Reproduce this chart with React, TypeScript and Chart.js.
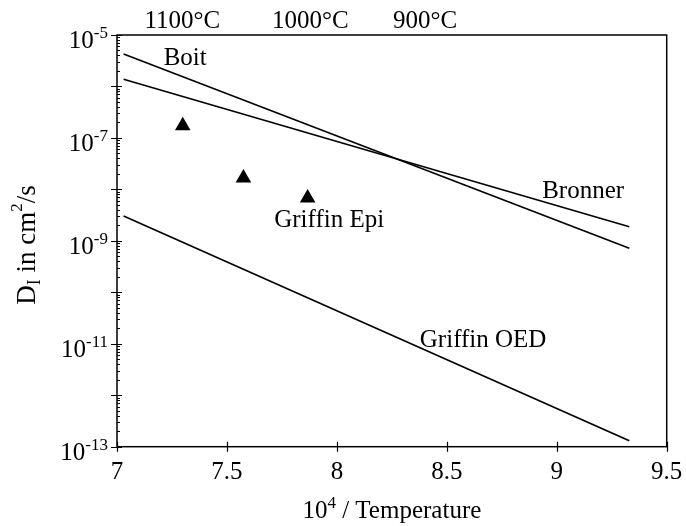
import { useEffect, useRef } from "react";
import { Chart, registerables } from "chart.js";

Chart.register(...registerables);

// ---- data ----
const lineX = [7.03, 9.33];
const boitY = [4.27e-6, 7.16e-10];
const bronnerY = [1.38e-6, 1.88e-9];
const griffinOedY = [3.04e-9, 1.31e-13];
const epiX = [7.299, 7.575, 7.867];
const epiY = [1.73e-7, 1.66e-8, 6.8e-9];

const xTickValues = [7, 7.5, 8, 8.5, 9, 9.5];
const xTickLabels = ["7", "7.5", "8", "8.5", "9", "9.5"];
const yDecadeExps = [-13, -12, -11, -10, -9, -8, -7, -6, -5];
const yLabelExps = [-5, -7, -9, -11, -13];

const topLabelX = [7.297, 7.879, 8.401];
const topLabels = ["1100°C", "1000°C", "900°C"];

const seriesNames = ["Boit", "Bronner", "Griffin Epi", "Griffin OED"];
const seriesNameX = [7.31, 9.12, 7.965, 8.665];
const seriesNameY = [2.61e-6, 6.8e-9, 1.9e-9, 8.85e-12];

const FONT = "'Liberation Serif', 'Times New Roman', serif";

type Part = { t: string; size: number; dy?: number };

function drawParts(
  ctx: CanvasRenderingContext2D,
  parts: Part[],
  x: number,
  y: number,
  align: "left" | "center" | "right"
) {
  let w = 0;
  const widths: number[] = [];
  for (const p of parts) {
    ctx.font = `${p.size}px ${FONT}`;
    const m = ctx.measureText(p.t).width;
    widths.push(m);
    w += m;
  }
  let cx = align === "center" ? x - w / 2 : align === "right" ? x - w : x;
  ctx.textAlign = "left";
  ctx.textBaseline = "alphabetic";
  parts.forEach((p, i) => {
    ctx.font = `${p.size}px ${FONT}`;
    ctx.fillText(p.t, cx, y + (p.dy || 0));
    cx += widths[i];
  });
}

const decorPlugin = {
  id: "decor",
  afterDraw(chart: any) {
    const ctx: CanvasRenderingContext2D = chart.ctx;
    const xs = chart.scales.x;
    const ys = chart.scales.y;
    const { left, right, top, bottom } = chart.chartArea;
    ctx.save();
    ctx.strokeStyle = "#000";
    ctx.fillStyle = "#000";
    // frame
    ctx.lineWidth = 1.5;
    ctx.strokeRect(left, top, right - left, bottom - top);
    // x ticks
    ctx.lineWidth = 1.2;
    ctx.beginPath();
    xTickValues.forEach((v) => {
      const px = Math.round(xs.getPixelForValue(v)) + 0.5;
      ctx.moveTo(px, bottom - 5);
      ctx.lineTo(px, bottom + 5);
    });
    // y major + minor ticks
    yDecadeExps.forEach((e) => {
      const py = Math.round(ys.getPixelForValue(Math.pow(10, e))) + 0.5;
      ctx.moveTo(left - 6, py);
      ctx.lineTo(left + 5, py);
      if (e < -5) {
        for (let m = 2; m <= 9; m++) {
          const pm = Math.round(ys.getPixelForValue(m * Math.pow(10, e))) + 0.5;
          ctx.moveTo(left, pm);
          ctx.lineTo(left + 3, pm);
        }
      }
    });
    ctx.stroke();

    // y tick labels
    yLabelExps.forEach((e) => {
      const py = ys.getPixelForValue(Math.pow(10, e));
      ctx.font = `17px ${FONT}`;
      const supW = ctx.measureText(`-${-e}`).width;
      ctx.font = `25px ${FONT}`;
      const baseW = ctx.measureText("10").width;
      const x0 = left - 9 - supW - baseW;
      drawParts(
        ctx,
        [
          { t: "10", size: 25, dy: 13 },
          { t: `-${-e}`, size: 17, dy: 3 },
        ],
        x0,
        py,
        "left"
      );
    });

    // x tick labels
    ctx.textAlign = "center";
    ctx.textBaseline = "alphabetic";
    ctx.font = `25px ${FONT}`;
    xTickValues.forEach((v, i) => {
      ctx.fillText(xTickLabels[i], xs.getPixelForValue(v), 479);
    });

    // top temperature labels
    topLabelX.forEach((v, i) => {
      ctx.fillText(topLabels[i], xs.getPixelForValue(v), 28);
    });

    // series labels
    seriesNames.forEach((n, i) => {
      ctx.fillText(n, xs.getPixelForValue(seriesNameX[i]), ys.getPixelForValue(seriesNameY[i]));
    });

    // x title
    drawParts(
      ctx,
      [
        { t: "10", size: 25 },
        { t: "4", size: 17, dy: -10 },
        { t: " / Temperature", size: 25 },
      ],
      (left + right) / 2,
      518,
      "center"
    );

    // y title
    ctx.save();
    ctx.translate(35, 245);
    ctx.rotate(-Math.PI / 2);
    drawParts(
      ctx,
      [
        { t: "D", size: 27 },
        { t: "I", size: 18, dy: 5 },
        { t: " in cm", size: 27 },
        { t: "2", size: 17, dy: -13 },
        { t: "/s", size: 27 },
      ],
      0,
      0,
      "center"
    );
    ctx.restore();

    ctx.restore();
  },
};

export default function App() {
  const ref = useRef<HTMLCanvasElement | null>(null);
  useEffect(() => {
    if (!ref.current) return;
    const mk = (ys: number[]) => lineX.map((x, i) => ({ x, y: ys[i] }));
    const lineStyle = {
      type: "line" as const,
      borderColor: "#000",
      borderWidth: 1.7,
      pointRadius: 0,
      fill: false,
      tension: 0,
    };
    const chart = new Chart(ref.current, {
      type: "scatter",
      data: {
        datasets: [
          { ...lineStyle, label: "Boit", data: mk(boitY), showLine: true } as any,
          { ...lineStyle, label: "Bronner", data: mk(bronnerY), showLine: true } as any,
          { ...lineStyle, label: "Griffin OED", data: mk(griffinOedY), showLine: true } as any,
          {
            label: "Griffin Epi",
            data: epiX.map((x, i) => ({ x, y: epiY[i] })),
            pointStyle: "triangle",
            pointRadius: 9,
            backgroundColor: "#000",
            borderColor: "#000",
            borderWidth: 0,
            showLine: false,
          },
        ],
      },
      options: {
        animation: false,
        responsive: false,
        devicePixelRatio: 1,
        layout: { padding: { left: 0, right: 19.3, top: 35, bottom: 0 } },
        plugins: { legend: { display: false }, tooltip: { enabled: false } },
        scales: {
          x: {
            type: "linear",
            min: 7,
            max: 9.5,
            grid: { display: false },
            border: { display: false },
            ticks: { display: false },
            afterFit: (s: any) => {
              s.height = 79.3;
            },
          },
          y: {
            type: "logarithmic",
            min: 1e-13,
            max: 1e-5,
            grid: { display: false },
            border: { display: false },
            ticks: { display: false },
            afterFit: (s: any) => {
              s.width = 117;
            },
          },
        },
      },
      plugins: [decorPlugin],
    });
    return () => chart.destroy();
  }, []);
  return (
    <div style={{ position: "absolute", left: 0, top: 0, width: 686, height: 526, background: "#fff" }}>
      <canvas ref={ref} width={686} height={526} style={{ width: 686, height: 526 }} />
    </div>
  );
}
